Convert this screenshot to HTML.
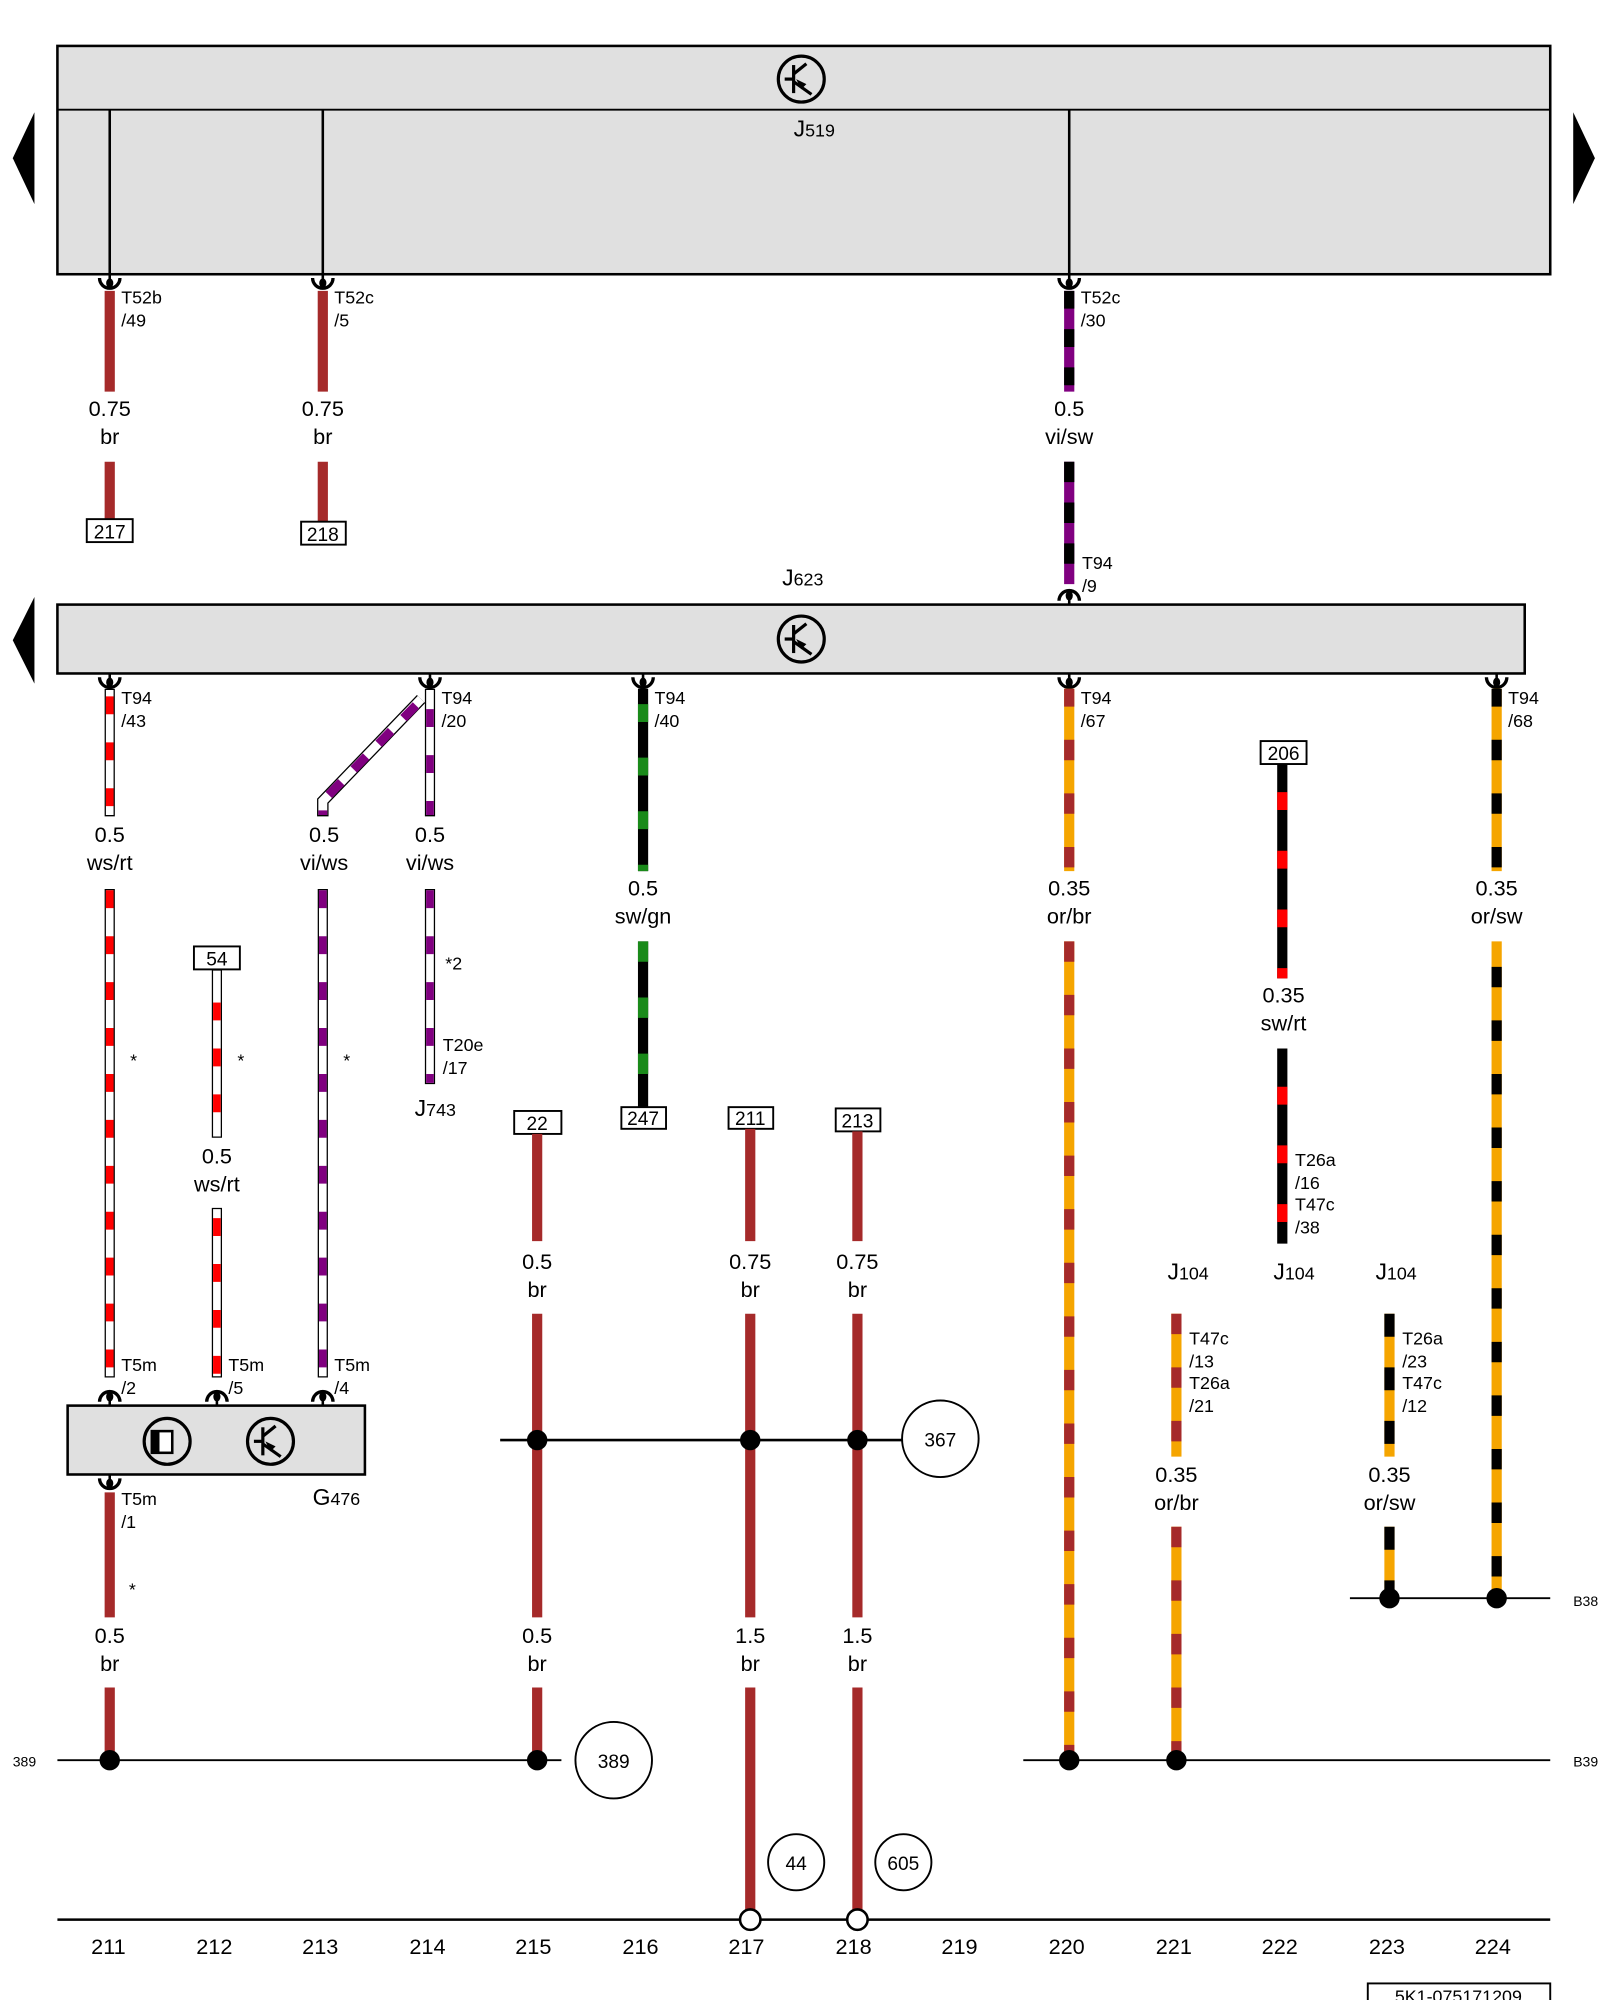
<!DOCTYPE html>
<html><head><meta charset="utf-8"><style>
html,body{margin:0;padding:0;background:#fff}
svg{display:block}
text{font-family:"Liberation Sans",sans-serif;fill:#000}
.v{font-size:17px;text-anchor:middle}
.t{font-size:14px}
.n{font-size:17px;text-anchor:middle}
</style></head><body>
<svg width="1600" height="2000" viewBox="0 0 1254 1568" preserveAspectRatio="none" xmlns="http://www.w3.org/2000/svg">
<defs>
<g id="cd"><line x1="0" y1="0" x2="0" y2="6" stroke="#000" stroke-width="2"/><ellipse cx="0" cy="7" rx="2.8" ry="3.8" fill="#000"/><path d="M-8,3 A8,8 0 0 0 8,3" fill="none" stroke="#000" stroke-width="2.6"/></g>
<g id="cu"><line x1="0" y1="0" x2="0" y2="-6" stroke="#000" stroke-width="2"/><ellipse cx="0" cy="-7" rx="2.8" ry="3.8" fill="#000"/><path d="M-8,-3 A8,8 0 0 1 8,-3" fill="none" stroke="#000" stroke-width="2.6"/></g>
<g id="tr"><circle cx="0" cy="0" r="18" fill="none" stroke="#000" stroke-width="2.5"/><line x1="-6" y1="-11" x2="-6" y2="11" stroke="#000" stroke-width="2.5"/><line x1="-13" y1="0" x2="-6" y2="0" stroke="#000" stroke-width="2.5"/><line x1="-6" y1="-4" x2="4" y2="-12" stroke="#000" stroke-width="2.5"/><line x1="-6" y1="2" x2="8" y2="12" stroke="#000" stroke-width="2.5"/><path d="M-4,0 L4,4 L0,8 Z" fill="#000"/></g>
</defs>

<!-- J519 -->
<rect x="45" y="36" width="1170" height="179" fill="#e0e0e0" stroke="#000" stroke-width="2"/>
<line x1="45" y1="86" x2="1215" y2="86" stroke="#000" stroke-width="1.5"/>
<use href="#tr" x="628" y="62"/>
<text x="622" y="107" style="font-size:18px">J<tspan style="font-size:14px">519</tspan></text>
<line x1="86" y1="86" x2="86" y2="215" stroke="#000" stroke-width="2"/>
<line x1="253" y1="86" x2="253" y2="215" stroke="#000" stroke-width="2"/>
<line x1="838" y1="86" x2="838" y2="215" stroke="#000" stroke-width="2"/>
<polygon points="27,88 27,160 10,124" fill="#000"/>
<polygon points="1233,88 1233,160 1250,124" fill="#000"/>

<use href="#cd" x="86" y="215"/><use href="#cd" x="253" y="215"/><use href="#cd" x="838" y="215"/>
<text class="t" x="95" y="238">T52b</text><text class="t" x="95" y="256">/49</text>
<text class="t" x="262" y="238">T52c</text><text class="t" x="262" y="256">/5</text>
<text class="t" x="847" y="238">T52c</text><text class="t" x="847" y="256">/30</text>

<line x1="86" y1="228" x2="86" y2="307" stroke="#a52a2a" stroke-width="8"/>
<line x1="86" y1="362" x2="86" y2="407" stroke="#a52a2a" stroke-width="8"/>
<text class="v" x="86" y="326">0.75</text><text class="v" x="86" y="348">br</text>
<rect x="68" y="407" width="36" height="18" fill="#fff" stroke="#000" stroke-width="1.5"/><text class="v" x="86" y="422" style="font-size:15px">217</text>
<line x1="253" y1="228" x2="253" y2="307" stroke="#a52a2a" stroke-width="8"/>
<line x1="253" y1="362" x2="253" y2="409" stroke="#a52a2a" stroke-width="8"/>
<text class="v" x="253" y="326">0.75</text><text class="v" x="253" y="348">br</text>
<rect x="236" y="409" width="35" height="18" fill="#fff" stroke="#000" stroke-width="1.5"/><text class="v" x="253" y="424" style="font-size:15px">218</text>

<line x1="838" y1="228" x2="838" y2="307" stroke="#800080" stroke-width="8"/>
<line x1="838" y1="228" x2="838" y2="307" stroke="#000" stroke-width="8" stroke-dasharray="14 16"/>
<text class="v" x="838" y="326">0.5</text><text class="v" x="838" y="348">vi/sw</text>
<line x1="838" y1="362" x2="838" y2="458" stroke="#800080" stroke-width="8"/>
<line x1="838" y1="362" x2="838" y2="458" stroke="#000" stroke-width="8" stroke-dasharray="16 16"/>
<text class="t" x="848" y="446">T94</text><text class="t" x="848" y="464">/9</text>
<use href="#cu" x="838" y="474"/>

<!-- J623 -->
<text x="613" y="459" style="font-size:18px">J<tspan style="font-size:14px">623</tspan></text>
<rect x="45" y="474" width="1150" height="54" fill="#e0e0e0" stroke="#000" stroke-width="2"/>
<use href="#tr" x="628" y="501"/>
<polygon points="27,468 27,536 10,502" fill="#000"/>

<use href="#cd" x="86" y="528"/><use href="#cd" x="337" y="528"/><use href="#cd" x="504" y="528"/><use href="#cd" x="838" y="528"/><use href="#cd" x="1173" y="528"/>
<text class="t" x="95" y="552">T94</text><text class="t" x="95" y="570">/43</text>
<text class="t" x="346" y="552">T94</text><text class="t" x="346" y="570">/20</text>
<text class="t" x="513" y="552">T94</text><text class="t" x="513" y="570">/40</text>
<text class="t" x="847" y="552">T94</text><text class="t" x="847" y="570">/67</text>
<text class="t" x="1182" y="552">T94</text><text class="t" x="1182" y="570">/68</text>

<!-- ws/rt 86 -->
<g stroke-width="8">
<line x1="86" y1="540" x2="86" y2="640" stroke="#000"/>
<line x1="86" y1="697" x2="86" y2="1080" stroke="#000"/>
<line x1="170" y1="760" x2="170" y2="892" stroke="#000"/>
<line x1="170" y1="947" x2="170" y2="1080" stroke="#000"/>
<line x1="253" y1="697" x2="253" y2="1080" stroke="#000"/>
<line x1="337" y1="540" x2="337" y2="640" stroke="#000"/>
<line x1="337" y1="697" x2="337" y2="850" stroke="#000"/>
<polyline points="330,548 253,628 253,640" fill="none" stroke="#000" stroke-width="9"/>
</g>
<g stroke-width="6" fill="none">
<line x1="86" y1="541" x2="86" y2="639" stroke="#fff"/>
<line x1="86" y1="698" x2="86" y2="1079" stroke="#fff"/>
<line x1="170" y1="761" x2="170" y2="891" stroke="#fff"/>
<line x1="170" y1="948" x2="170" y2="1079" stroke="#fff"/>
<line x1="253" y1="698" x2="253" y2="1079" stroke="#fff"/>
<line x1="337" y1="541" x2="337" y2="639" stroke="#fff"/>
<line x1="337" y1="698" x2="337" y2="849" stroke="#fff"/>
<polyline points="330,548 253,628 253,639" stroke="#fff" stroke-width="7"/>
<line x1="86" y1="546" x2="86" y2="639" stroke="#f00" stroke-dasharray="14 22"/>
<line x1="86" y1="698" x2="86" y2="1079" stroke="#f00" stroke-dasharray="14 22"/>
<line x1="170" y1="786" x2="170" y2="891" stroke="#f00" stroke-dasharray="14 22"/>
<line x1="170" y1="955" x2="170" y2="1079" stroke="#f00" stroke-dasharray="14 22"/>
<line x1="253" y1="698" x2="253" y2="1079" stroke="#800080" stroke-dasharray="14 22"/>
<line x1="337" y1="556" x2="337" y2="639" stroke="#800080" stroke-dasharray="14 22"/>
<line x1="337" y1="698" x2="337" y2="849" stroke="#800080" stroke-dasharray="14 22"/>
<polyline points="326,553 253,628 253,639" stroke="#800080" stroke-width="7" stroke-dasharray="14 14"/>
</g>
<text class="v" x="86" y="660">0.5</text><text class="v" x="86" y="682">ws/rt</text>
<text class="v" x="254" y="660">0.5</text><text class="v" x="254" y="682">vi/ws</text>
<text class="v" x="337" y="660">0.5</text><text class="v" x="337" y="682">vi/ws</text>
<text class="t" x="102" y="836">*</text><text class="t" x="186" y="836">*</text><text class="t" x="269" y="836">*</text>
<rect x="152" y="742" width="36" height="18" fill="#fff" stroke="#000" stroke-width="1.5"/><text class="v" x="170" y="757" style="font-size:15px">54</text>
<text class="v" x="170" y="912">0.5</text><text class="v" x="170" y="934">ws/rt</text>
<text class="t" x="349" y="760">*2</text>
<text class="t" x="347" y="824">T20e</text><text class="t" x="347" y="842">/17</text>
<text x="325" y="875" style="font-size:18px">J<tspan style="font-size:14px">743</tspan></text>

<text class="t" x="95" y="1075">T5m</text><text class="t" x="95" y="1093">/2</text>
<text class="t" x="179" y="1075">T5m</text><text class="t" x="179" y="1093">/5</text>
<text class="t" x="262" y="1075">T5m</text><text class="t" x="262" y="1093">/4</text>
<use href="#cu" x="86" y="1102"/><use href="#cu" x="170" y="1102"/><use href="#cu" x="253" y="1102"/>

<!-- G476 -->
<rect x="53" y="1102" width="233" height="54" fill="#e0e0e0" stroke="#000" stroke-width="2"/>
<circle cx="131" cy="1130" r="18" fill="none" stroke="#000" stroke-width="2.5"/>
<rect x="119" y="1122" width="16" height="17" fill="#fff" stroke="#000" stroke-width="2"/><rect x="119" y="1122" width="6" height="17" fill="#000"/>
<use href="#tr" x="212" y="1130"/>
<text x="245" y="1180" style="font-size:18px">G<tspan style="font-size:14px">476</tspan></text>
<use href="#cd" x="86" y="1156"/>
<text class="t" x="95" y="1180">T5m</text><text class="t" x="95" y="1198">/1</text>
<line x1="86" y1="1170" x2="86" y2="1268" stroke="#a52a2a" stroke-width="8"/>
<text class="t" x="101" y="1251">*</text>
<text class="v" x="86" y="1288">0.5</text><text class="v" x="86" y="1310">br</text>
<line x1="86" y1="1323" x2="86" y2="1380" stroke="#a52a2a" stroke-width="8"/>

<!-- sw/gn -->
<line x1="504" y1="540" x2="504" y2="683" stroke="#000" stroke-width="8"/>
<line x1="504" y1="540" x2="504" y2="683" stroke="#1a8a1a" stroke-width="8" stroke-dasharray="14 28" stroke-dashoffset="-12"/>
<text class="v" x="504" y="702">0.5</text><text class="v" x="504" y="724">sw/gn</text>
<line x1="504" y1="738" x2="504" y2="868" stroke="#000" stroke-width="8"/>
<line x1="504" y1="738" x2="504" y2="868" stroke="#1a8a1a" stroke-width="8" stroke-dasharray="16 28"/>
<rect x="487" y="868" width="35" height="17" fill="#fff" stroke="#000" stroke-width="1.5"/><text class="v" x="504" y="882" style="font-size:15px">247</text>

<!-- brown 421/588/672 -->
<rect x="403" y="871" width="37" height="18" fill="#fff" stroke="#000" stroke-width="1.5"/><text class="v" x="421" y="886" style="font-size:15px">22</text>
<rect x="571" y="868" width="35" height="17" fill="#fff" stroke="#000" stroke-width="1.5"/><text class="v" x="588" y="882" style="font-size:15px">211</text>
<rect x="655" y="869" width="35" height="18" fill="#fff" stroke="#000" stroke-width="1.5"/><text class="v" x="672" y="884" style="font-size:15px">213</text>
<g stroke="#a52a2a" stroke-width="8">
<line x1="421" y1="889" x2="421" y2="973"/><line x1="421" y1="1030" x2="421" y2="1268"/><line x1="421" y1="1323" x2="421" y2="1380"/>
<line x1="588" y1="885" x2="588" y2="973"/><line x1="588" y1="1030" x2="588" y2="1268"/><line x1="588" y1="1323" x2="588" y2="1500"/>
<line x1="672" y1="887" x2="672" y2="973"/><line x1="672" y1="1030" x2="672" y2="1268"/><line x1="672" y1="1323" x2="672" y2="1500"/>
</g>
<text class="v" x="421" y="995">0.5</text><text class="v" x="421" y="1017">br</text>
<text class="v" x="588" y="995">0.75</text><text class="v" x="588" y="1017">br</text>
<text class="v" x="672" y="995">0.75</text><text class="v" x="672" y="1017">br</text>
<text class="v" x="421" y="1288">0.5</text><text class="v" x="421" y="1310">br</text>
<text class="v" x="588" y="1288">1.5</text><text class="v" x="588" y="1310">br</text>
<text class="v" x="672" y="1288">1.5</text><text class="v" x="672" y="1310">br</text>
<line x1="392" y1="1129" x2="707" y2="1129" stroke="#000" stroke-width="2"/>
<circle cx="421" cy="1129" r="8" fill="#000"/><circle cx="588" cy="1129" r="8" fill="#000"/><circle cx="672" cy="1129" r="8" fill="#000"/>
<circle cx="737" cy="1128" r="30" fill="#fff" stroke="#000" stroke-width="1.5"/><text class="n" x="737" y="1134" style="font-size:15px">367</text>

<!-- or/br 838 -->
<g stroke-width="8">
<line x1="838" y1="540" x2="838" y2="683" stroke="#f5a500"/>
<line x1="838" y1="540" x2="838" y2="683" stroke="#a52a2a" stroke-dasharray="16 26" stroke-dashoffset="-40"/>
<line x1="838" y1="738" x2="838" y2="1375" stroke="#f5a500"/>
<line x1="838" y1="738" x2="838" y2="1375" stroke="#a52a2a" stroke-dasharray="16 26"/>
<line x1="1173" y1="540" x2="1173" y2="683" stroke="#f5a500"/>
<line x1="1173" y1="540" x2="1173" y2="683" stroke="#000" stroke-dasharray="16 26" stroke-dashoffset="-40"/>
<line x1="1173" y1="738" x2="1173" y2="1250" stroke="#f5a500"/>
<line x1="1173" y1="738" x2="1173" y2="1250" stroke="#000" stroke-dasharray="16 26" stroke-dashoffset="-20"/>
<line x1="1005" y1="599" x2="1005" y2="767" stroke="#000"/>
<line x1="1005" y1="599" x2="1005" y2="767" stroke="#f00" stroke-dasharray="14 32" stroke-dashoffset="-22"/>
<line x1="1005" y1="822" x2="1005" y2="975" stroke="#000"/>
<line x1="1005" y1="822" x2="1005" y2="975" stroke="#f00" stroke-dasharray="14 32" stroke-dashoffset="-30"/>
<line x1="922" y1="1030" x2="922" y2="1142" stroke="#f5a500"/>
<line x1="922" y1="1030" x2="922" y2="1142" stroke="#a52a2a" stroke-dasharray="16 26"/>
<line x1="922" y1="1197" x2="922" y2="1375" stroke="#f5a500"/>
<line x1="922" y1="1197" x2="922" y2="1375" stroke="#a52a2a" stroke-dasharray="16 26"/>
<line x1="1089" y1="1030" x2="1089" y2="1142" stroke="#f5a500"/>
<line x1="1089" y1="1030" x2="1089" y2="1142" stroke="#000" stroke-dasharray="18 24"/>
<line x1="1089" y1="1197" x2="1089" y2="1250" stroke="#f5a500"/>
<line x1="1089" y1="1197" x2="1089" y2="1250" stroke="#000" stroke-dasharray="18 24"/>
</g>
<text class="v" x="838" y="702">0.35</text><text class="v" x="838" y="724">or/br</text>
<text class="v" x="1173" y="702">0.35</text><text class="v" x="1173" y="724">or/sw</text>
<rect x="988" y="581" width="36" height="18" fill="#fff" stroke="#000" stroke-width="1.5"/><text class="v" x="1006" y="596" style="font-size:15px">206</text>
<text class="v" x="1006" y="786">0.35</text><text class="v" x="1006" y="808">sw/rt</text>
<text class="t" x="1015" y="914">T26a</text><text class="t" x="1015" y="932">/16</text><text class="t" x="1015" y="949">T47c</text><text class="t" x="1015" y="967">/38</text>
<text x="998" y="1003" style="font-size:18px">J<tspan style="font-size:14px">104</tspan></text>
<text x="915" y="1003" style="font-size:18px">J<tspan style="font-size:14px">104</tspan></text>
<text x="1078" y="1003" style="font-size:18px">J<tspan style="font-size:14px">104</tspan></text>
<text class="t" x="932" y="1054">T47c</text><text class="t" x="932" y="1072">/13</text><text class="t" x="932" y="1089">T26a</text><text class="t" x="932" y="1107">/21</text>
<text class="t" x="1099" y="1054">T26a</text><text class="t" x="1099" y="1072">/23</text><text class="t" x="1099" y="1089">T47c</text><text class="t" x="1099" y="1107">/12</text>
<text class="v" x="922" y="1162">0.35</text><text class="v" x="922" y="1184">or/br</text>
<text class="v" x="1089" y="1162">0.35</text><text class="v" x="1089" y="1184">or/sw</text>

<!-- busses -->
<line x1="1058" y1="1253" x2="1215" y2="1253" stroke="#000" stroke-width="1.5"/>
<circle cx="1089" cy="1253" r="8" fill="#000"/><circle cx="1173" cy="1253" r="8" fill="#000"/>
<text x="1233" y="1259" style="font-size:11px">B38</text>
<line x1="45" y1="1380" x2="440" y2="1380" stroke="#000" stroke-width="1.5"/>
<line x1="802" y1="1380" x2="1215" y2="1380" stroke="#000" stroke-width="1.5"/>
<circle cx="86" cy="1380" r="8" fill="#000"/><circle cx="421" cy="1380" r="8" fill="#000"/>
<circle cx="838" cy="1380" r="8" fill="#000"/><circle cx="922" cy="1380" r="8" fill="#000"/>
<text x="10" y="1385" style="font-size:11px">389</text>
<text x="1233" y="1385" style="font-size:11px">B39</text>
<circle cx="481" cy="1380" r="30" fill="#fff" stroke="#000" stroke-width="1.5"/><text class="n" x="481" y="1386" style="font-size:15px">389</text>
<circle cx="624" cy="1460" r="22" fill="#fff" stroke="#000" stroke-width="1.5"/><text class="n" x="624" y="1466" style="font-size:15px">44</text>
<circle cx="708" cy="1460" r="22" fill="#fff" stroke="#000" stroke-width="1.5"/><text class="n" x="708" y="1466" style="font-size:15px">605</text>

<line x1="45" y1="1505" x2="1215" y2="1505" stroke="#000" stroke-width="2"/>
<circle cx="588" cy="1505" r="8" fill="#fff" stroke="#000" stroke-width="2"/>
<circle cx="672" cy="1505" r="8" fill="#fff" stroke="#000" stroke-width="2"/>
<text class="n" x="85" y="1532">211</text><text class="n" x="168" y="1532">212</text><text class="n" x="251" y="1532">213</text><text class="n" x="335" y="1532">214</text><text class="n" x="418" y="1532">215</text><text class="n" x="502" y="1532">216</text><text class="n" x="585" y="1532">217</text><text class="n" x="669" y="1532">218</text><text class="n" x="752" y="1532">219</text><text class="n" x="836" y="1532">220</text><text class="n" x="920" y="1532">221</text><text class="n" x="1003" y="1532">222</text><text class="n" x="1087" y="1532">223</text><text class="n" x="1170" y="1532">224</text>
<rect x="1072" y="1555" width="143" height="20" fill="#fff" stroke="#000" stroke-width="1.5"/>
<text class="n" x="1143" y="1570" style="font-size:14px">5K1-075171209</text>
</svg>
</body></html>
